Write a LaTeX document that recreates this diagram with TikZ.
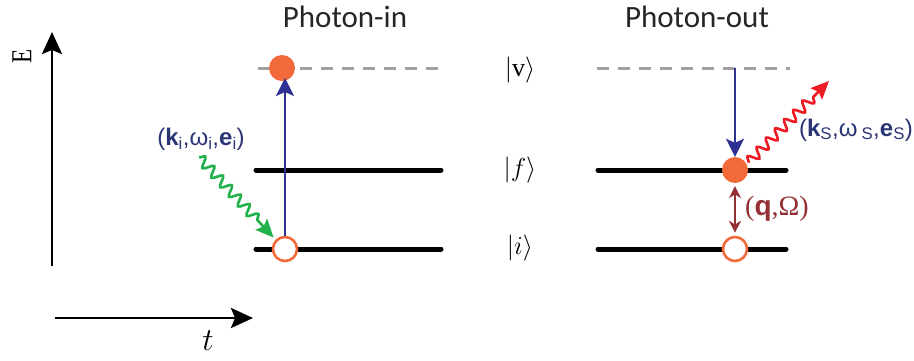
\RequirePackage{fix-cm}
\documentclass[tikz,border=0pt]{standalone}
\usepackage{fontspec}
\setmainfont{Liberation Serif}
\newfontfamily\carl{Carlito}
\newfontfamily\arl{Liberation Sans}
\usetikzlibrary{arrows.meta,decorations.pathmorphing}
\definecolor{orng}{HTML}{F26A3A}
\definecolor{navy}{HTML}{2E3192}
\definecolor{lbl}{HTML}{2B3575}
\definecolor{grn}{HTML}{22B24C}
\definecolor{rd}{HTML}{ED1C24}
\definecolor{dred}{HTML}{943034}
\begin{document}
\begin{tikzpicture}[x=1pt,y=-1pt,
  axis/.style={line width=2.6pt,-{Stealth[length=22pt,width=20pt,inset=4pt]}},
  lvl/.style={line width=5pt,line cap=round},
  vlvl/.style={line width=3pt,gray!75,dash pattern=on 12pt off 9pt},
  full/.style={circle,fill=orng,minimum size=26pt,inner sep=0pt},
  empty/.style={circle,draw=orng,line width=2.6pt,fill=white,minimum size=24pt,inner sep=0pt},
  trans/.style={navy,line width=2.4pt,-{Stealth[length=18pt,width=18pt,inset=4pt]}},
  wave/.style={line width=2.6pt,decorate,decoration={snake,amplitude=5pt,segment length=13pt,post length=18pt}},
  ket/.style={font=\fontsize{26}{28}\selectfont},
  ttl/.style={font=\carl\fontsize{31}{34}\selectfont,text=black!85},
  lab/.style={font=\arl\fontsize{24}{26}\selectfont}
]
\useasboundingbox (0,0) rectangle (914,360);
% axes
\coordinate (e0) at (52,266);
\coordinate (e1) at (52,32);
\draw[axis] (e0) -- (e1);
\node[rotate=90,font=\fontsize{29}{31}\selectfont,inner sep=0pt,xscale=0.8] (elab) at (22,56) {E};
\coordinate (t0) at (55,318);
\coordinate (t1) at (253,318);
\draw[axis] (t0) -- (t1);
\node[font=\fontsize{32}{34}\selectfont,inner sep=0pt] (tlab) at (208,341) {$t$};
% titles
\node[ttl] (tin) at (345,17) {Photon-in};
\node[ttl] (tout) at (697,17) {Photon-out};
% levels left
\coordinate (vl0) at (258,68); \coordinate (vl1) at (442,68);
\draw[vlvl] (vl0) -- (vl1);
\coordinate (fl0) at (256,170); \coordinate (fl1) at (441,170);
\draw[lvl] (fl0) -- (fl1);
\coordinate (il0) at (256,249); \coordinate (il1) at (441,249);
\draw[lvl] (il0) -- (il1);
% levels right
\coordinate (vr0) at (597,68); \coordinate (vr1) at (790,68);
\draw[vlvl] (vr0) -- (vr1);
\coordinate (fr0) at (598,170); \coordinate (fr1) at (786,170);
\draw[lvl] (fr0) -- (fr1);
\coordinate (ir0) at (598,249); \coordinate (ir1) at (786,249);
\draw[lvl] (ir0) -- (ir1);
% kets
\node[ket] (kv) at (520,70) {$|\mathrm{v}\rangle$};
\node[ket] (kf) at (520,170) {$|f\rangle$};
\node[ket] (ki) at (520,248) {$|i\rangle$};
% left process
\node[full] (v1) at (282,68) {};
\node[empty] (i1) at (285,249) {};
\coordinate (up) at (285,78);
\draw[trans] (i1.north) -- (up);
\coordinate (gin0) at (199,157);
\draw[grn,wave,-{Stealth[length=18pt,width=16pt,inset=3pt]}] (gin0) -- ([xshift=-2pt,yshift=2pt]i1.north west);
\node[lab,text=lbl] (lin) at (201,139) {(\textbf{k}\textsubscript{i},ω\textsubscript{i},\textbf{e}\textsubscript{i})};
% right process
\node[full] (f2) at (735,170) {};
\node[empty] (i2) at (735,249) {};
\coordinate (dtop) at (735,68);
\draw[trans] (dtop) -- (f2.north);
\draw[dred,line width=2.2pt,{Stealth[length=12pt,width=12pt]}-{Stealth[length=12pt,width=12pt]}] ([yshift=-3pt]f2.south) -- ([yshift=3pt]i2.north);
\node[font=\fontsize{28}{30}\selectfont,text=dred] (lq) at (777,209) {(\textbf{\arl q},Ω)};
\coordinate (rout) at (829,81);
\draw[rd,wave,-{Stealth[length=18pt,width=16pt,inset=3pt]}] ([xshift=4pt,yshift=-2pt]f2.north east) -- (rout);
\node[lab,text=lbl] (lout) at (856,130) {(\textbf{k}\textsubscript{S},ω\,\textsubscript{S},\textbf{e}\textsubscript{S})};
\end{tikzpicture}
\end{document}
